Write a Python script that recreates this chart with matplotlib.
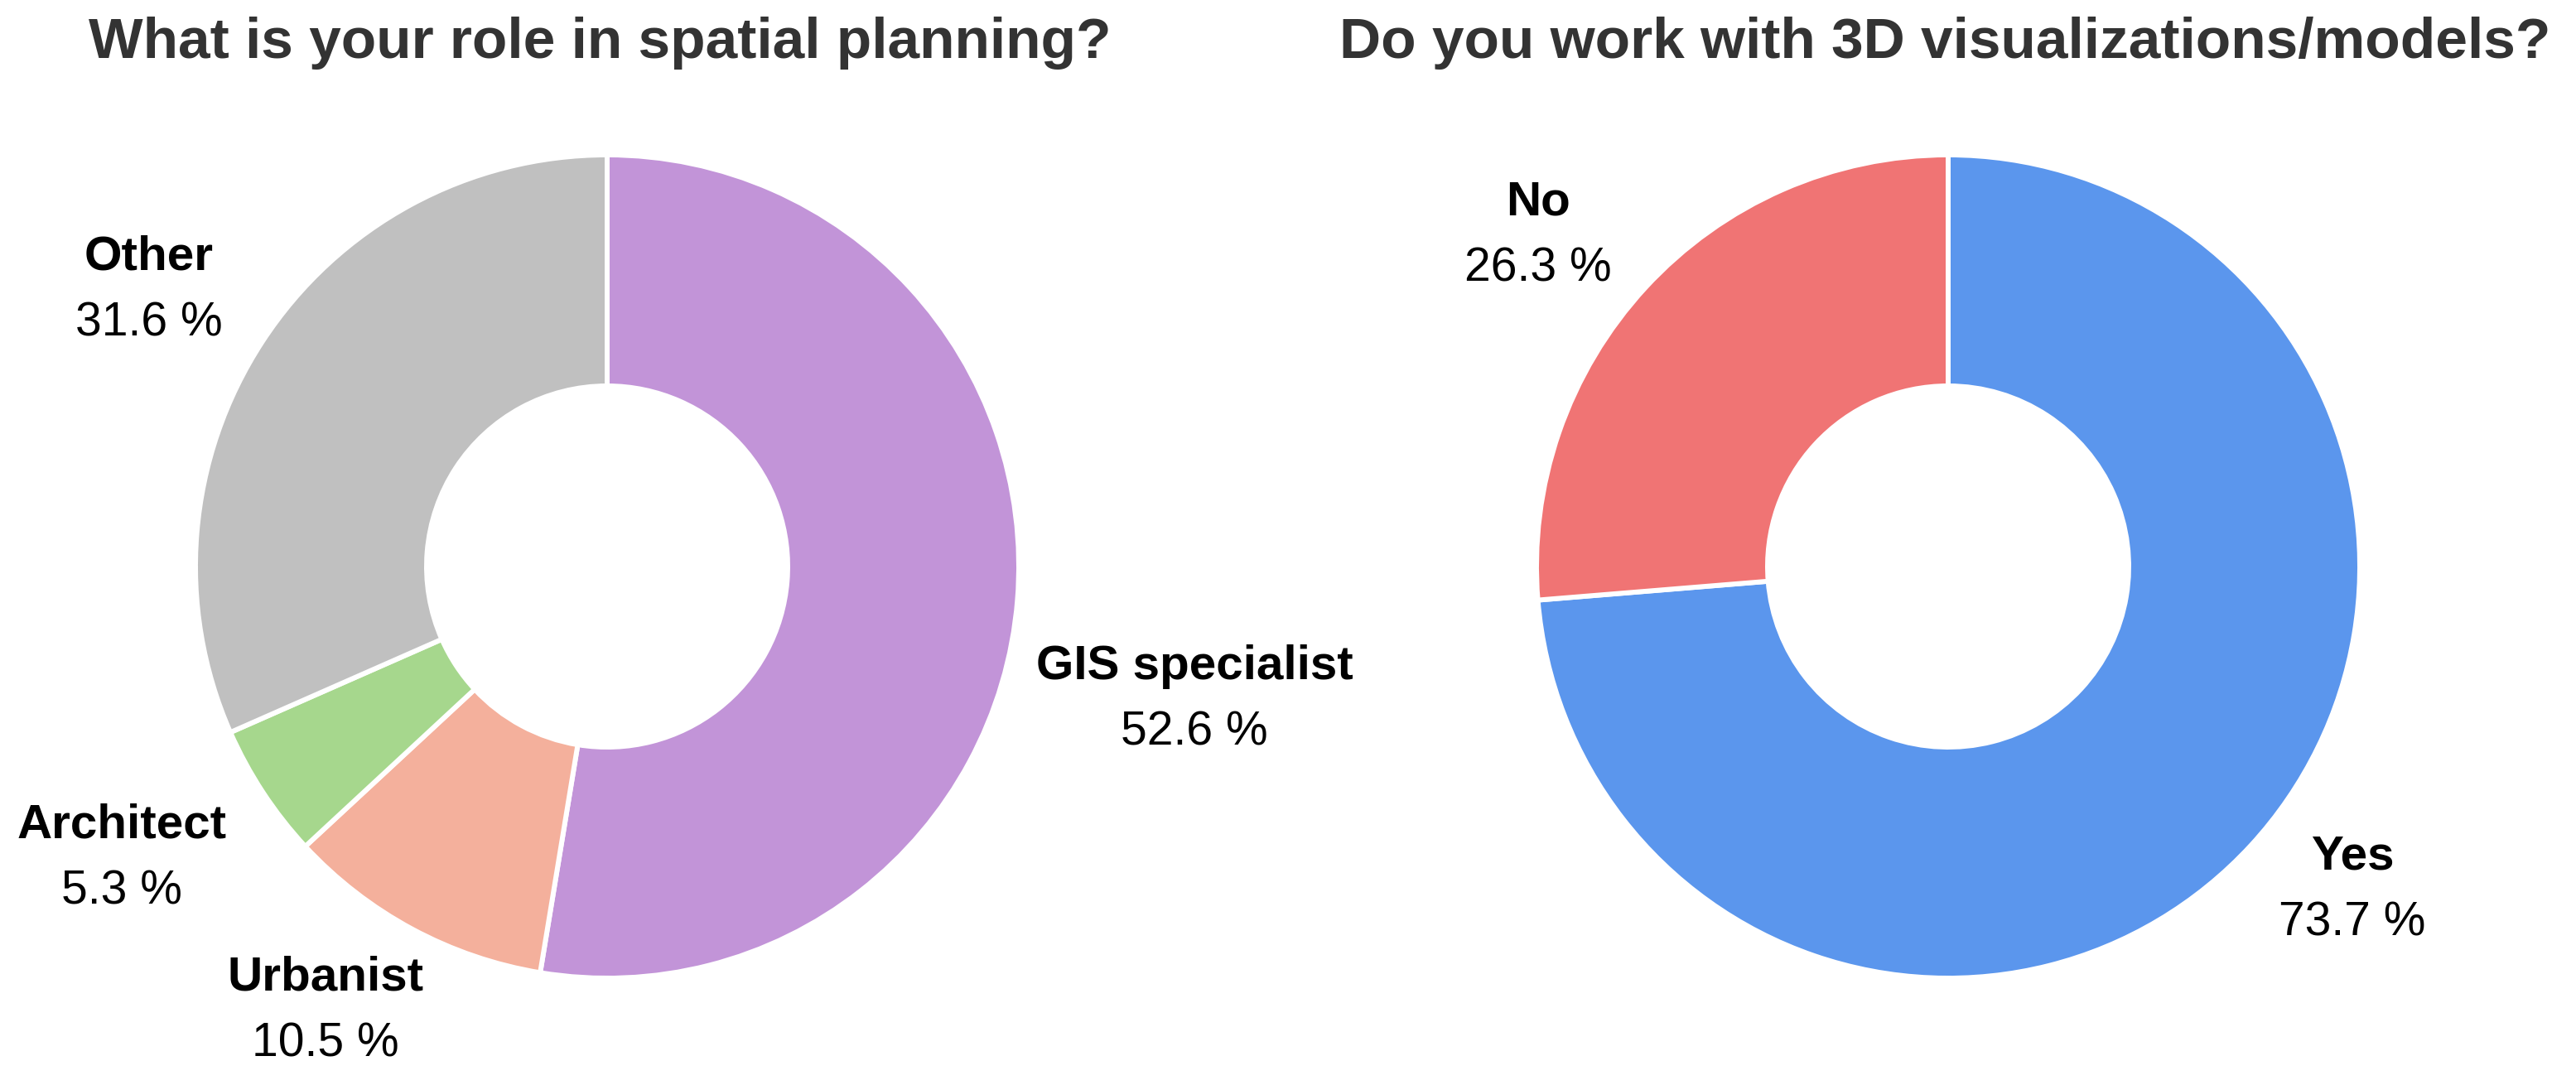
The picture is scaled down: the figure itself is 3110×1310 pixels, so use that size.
import matplotlib
matplotlib.use("Agg")
import matplotlib.pyplot as plt

# ---- data ----
roles = ["GIS specialist", "Urbanist", "Architect", "Other"]
role_pct = [52.6, 10.5, 5.3, 31.6]
role_colors = ["#C294D8", "#F4B09C", "#A6D78D", "#C0C0C0"]

use3d = ["Yes", "No"]
use3d_pct = [73.7, 26.3]
use3d_colors = ["#5B96ED", "#F07474"]

titles = ["What is your role in spatial planning?",
          "Do you work with 3D visualizations/models?"]

# ---- layout (pixel coordinates, y up) ----
W, H = 3110, 1310
centers = [(733, 626), (2352, 626)]
R_OUT = 497
R_IN = 218
title_pos = [(724, 1240), (2348, 1240)]
role_label_pos = [(1442, 490), (393, 115), (147, 298), (180, 985)]
use3d_label_pos = [(2840, 260), (1857, 1050)]
LINE_GAP = 80

plt.rcParams["font.family"] = ["Liberation Sans", "DejaVu Sans"]

fig = plt.figure(figsize=(W / 100, H / 100), dpi=100)
ax = fig.add_axes([0, 0, 1, 1])
ax.set_xlim(0, W)
ax.set_ylim(0, H)
ax.axis("off")

wp = dict(width=R_OUT - R_IN, edgecolor="white", linewidth=4.3)

ax.pie(role_pct, colors=role_colors, startangle=90, counterclock=False,
       center=centers[0], radius=R_OUT, wedgeprops=wp, frame=True)
ax.pie(use3d_pct, colors=use3d_colors, startangle=90, counterclock=False,
       center=centers[1], radius=R_OUT, wedgeprops=wp, frame=True)
ax.set_xlim(0, W)
ax.set_ylim(0, H)
ax.axis("off")

for (x, y), t in zip(title_pos, titles):
    ax.text(x, y, t, ha="center", va="baseline", fontsize=50,
            fontweight="bold", color="#333333")


def put_labels(names, vals, positions):
    for name, v, (x, y) in zip(names, vals, positions):
        ax.text(x, y, name, ha="center", va="baseline", fontsize=42,
                fontweight="bold", color="black")
        ax.text(x, y - LINE_GAP, f"{v:.1f} %", ha="center", va="baseline",
                fontsize=41, color="black")


put_labels(roles, role_pct, role_label_pos)
put_labels(use3d, use3d_pct, use3d_label_pos)

fig.savefig("out.png", dpi=100, facecolor="white")
